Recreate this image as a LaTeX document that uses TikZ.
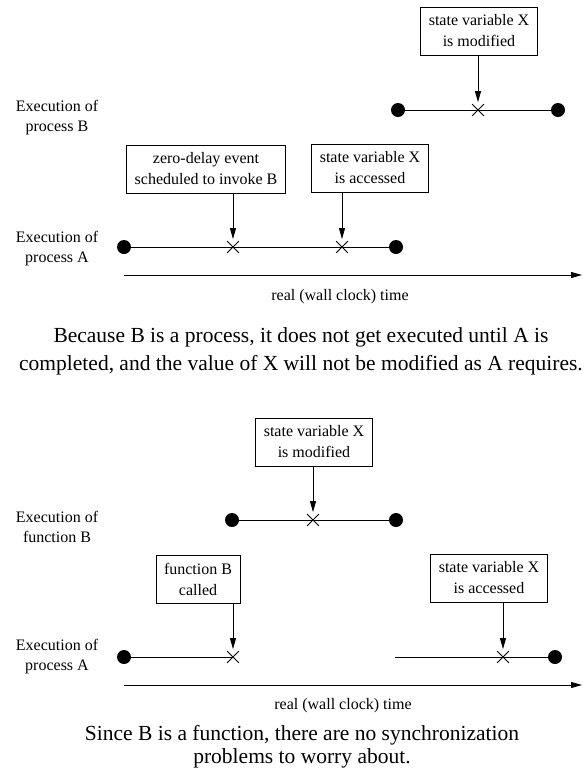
\documentclass[tikz,border=0pt]{standalone}
\usepackage{fontspec}
\setmainfont{Liberation Serif}
\usetikzlibrary{arrows.meta,positioning,shapes.misc}
\tikzset{
  >={Stealth[length=11pt,width=6pt,inset=0pt]},
  % boxes, events
  evbox/.style={draw,line width=0.9pt,align=center,inner xsep=8pt,inner ysep=0pt,
                minimum height=48pt,font=\fontsize{16}{21}\selectfont},
  ev/.style={circle,fill=black,inner sep=0pt,minimum size=14pt},
  hit/.style={cross out,draw,line width=0.8pt,inner sep=0pt,minimum size=11pt},
  tl/.style={line width=0.9pt},
  ar/.style={->,line width=0.9pt,shorten >=2pt},
  % texts
  lbl/.style={align=center,font=\fontsize{16}{20}\selectfont},
  captxt/.style={align=center,font=\fontsize{21.5}{28}\selectfont},
}
\begin{document}
\begin{tikzpicture}[x=1pt,y=-1pt]
  \useasboundingbox (0,0) rectangle (588,777);
  % --- B as a process
  \node[lbl] (lblB1) at (57,118) {Execution of\\process B};
  \node[lbl] (lblA1) at (57,249) {Execution of\\process A};
  \node[evbox] (modB1) at (479,31) {state variable X\\is modified};
  \node[ev] (dB1) at (398,110) {};
  \node[ev] (dB2) at (558,110) {};
  \node[hit] (xB1) at (478,110) {};
  \draw[tl] (dB1) -- (dB2);
  \draw[ar] (modB1.south -| xB1) -- (xB1.north);
  \node[evbox] (zero) at (206,169) {zero-delay event\\scheduled to invoke B};
  \node[evbox] (acc1) at (370,168) {state variable X\\is accessed};
  \node[ev] (dA1) at (124,247) {};
  \node[ev] (dA2) at (396,247) {};
  \node[hit] (xA1) at (233,247) {};
  \node[hit] (xA2) at (342,247) {};
  \draw[tl] (dA1) -- (dA2);
  \draw[ar] (zero.south -| xA1) -- (xA1.north);
  \draw[ar] (acc1.south -| xA2) -- (xA2.north);
  \coordinate (t1s) at (124,275);
  \coordinate (t1e) at (582,275);
  \draw[tl,->] (t1s) -- (t1e);
  \node[lbl] (time1) at (340,297) {real (wall clock) time};
  \node[captxt] (cap1) at (301,351) {Because B is a process, it does not get executed until A is\\
    completed, and the value of X will not be modified as A requires.};
  % --- B as a function
  \node[evbox] (modB2) at (314,442) {state variable X\\is modified};
  \node[lbl] (lblB2) at (57,527) {Execution of\\function B};
  \node[ev] (dF1) at (232,520) {};
  \node[ev] (dF2) at (396,520) {};
  \node[hit] (xF) at (313,520) {};
  \draw[tl] (dF1) -- (dF2);
  \draw[ar] (modB2.south -| xF) -- (xF.north);
  \node[evbox] (call) at (198,579) {function B\\called};
  \node[evbox] (acc2) at (489,578) {state variable X\\is accessed};
  \node[lbl] (lblA2) at (57,657) {Execution of\\process A};
  \node[ev] (dP1) at (124,657) {};
  \node[hit] (xP1) at (233,657) {};
  \coordinate (sP2) at (395,657);
  \node[hit] (xP2) at (503,657) {};
  \node[ev] (dP2) at (555,657) {};
  \draw[tl] (dP1) -- (xP1.center);
  \draw[tl] (sP2) -- (dP2);
  \draw[ar] (call.south -| xP1) -- (xP1.north);
  \draw[ar] (acc2.south -| xP2) -- (xP2.north);
  \coordinate (t2s) at (124,685);
  \coordinate (t2e) at (582,685);
  \draw[tl,->] (t2s) -- (t2e);
  \node[lbl] (time2) at (343,706) {real (wall clock) time};
  \node[captxt,font=\fontsize{21.5}{23}\selectfont] (cap2) at (302,747) {Since B is a function, there are no synchronization\\
    problems to worry about.};
\end{tikzpicture}
\end{document}
